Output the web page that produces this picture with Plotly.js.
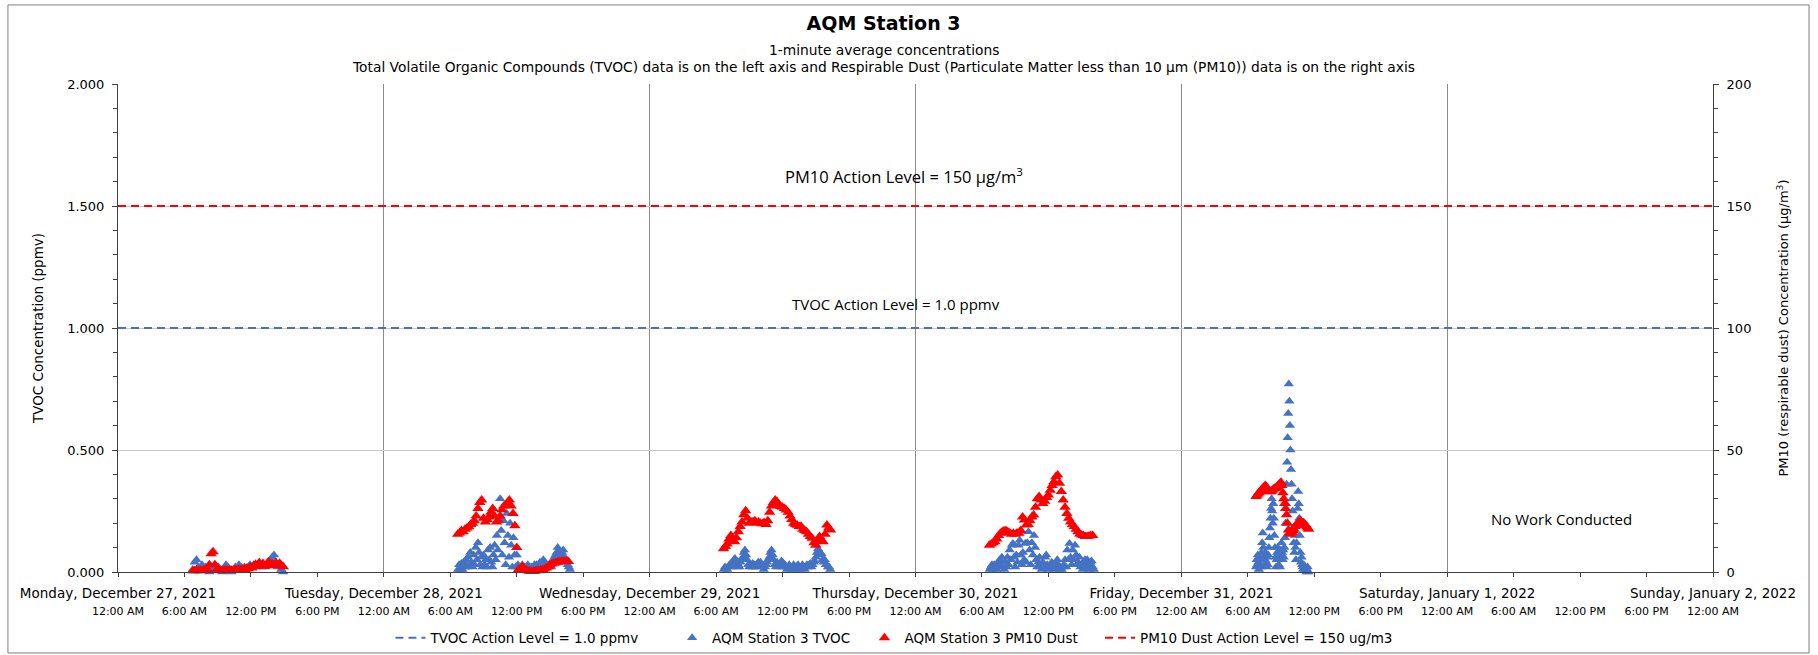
<!DOCTYPE html>
<html>
<head>
<meta charset="utf-8">
<script src="https://cdn.plot.ly/plotly-3.0.1.min.js"></script>
<style>
  html, body { margin: 0; padding: 0; background: #ffffff; }
  #chart { width: 1818px; height: 655px; }
</style>
</head>
<body>
<div id="chart"></div>
<script>
// ---------------- Axis tick labels ----------------
const dayTickVals = ['2021-12-27','2021-12-28','2021-12-29','2021-12-30','2021-12-31','2022-01-01','2022-01-02'];
const dayTickText = ['Monday, December 27, 2021','Tuesday, December 28, 2021','Wednesday, December 29, 2021',
  'Thursday, December 30, 2021','Friday, December 31, 2021','Saturday, January 1, 2022','Sunday, January 2, 2022'];
const timeTickVals = [
  '2021-12-27 00:00','2021-12-27 06:00','2021-12-27 12:00','2021-12-27 18:00',
  '2021-12-28 00:00','2021-12-28 06:00','2021-12-28 12:00','2021-12-28 18:00',
  '2021-12-29 00:00','2021-12-29 06:00','2021-12-29 12:00','2021-12-29 18:00',
  '2021-12-30 00:00','2021-12-30 06:00','2021-12-30 12:00','2021-12-30 18:00',
  '2021-12-31 00:00','2021-12-31 06:00','2021-12-31 12:00','2021-12-31 18:00',
  '2022-01-01 00:00','2022-01-01 06:00','2022-01-01 12:00','2022-01-01 18:00',
  '2022-01-02 00:00'];
const timeTickText = [
  '12:00 AM','6:00 AM','12:00 PM','6:00 PM',
  '12:00 AM','6:00 AM','12:00 PM','6:00 PM',
  '12:00 AM','6:00 AM','12:00 PM','6:00 PM',
  '12:00 AM','6:00 AM','12:00 PM','6:00 PM',
  '12:00 AM','6:00 AM','12:00 PM','6:00 PM',
  '12:00 AM','6:00 AM','12:00 PM','6:00 PM',
  '12:00 AM'];

// ---------------- Action levels ----------------
const actionX = ['2021-12-27 00:00', '2022-01-02 00:00'];
const tvocActionLevel = [1.0, 1.0];     // ppmv
const pm10ActionLevel = [150, 150];     // ug/m3

// ---------------- TVOC (ppmv), sampled readings per work day ----------------
const tvocStart = ['2021-12-27 06:45','2021-12-28 06:42','2021-12-29 06:42','2021-12-30 06:42','2021-12-31 06:45'];
const tvocStepMin = [10, 6, 6, 6, 3];
const tvocDec27 = [
  0.01,0.04,0.05,0.02,0.01,0.03,0.01,0.02,0.01,0.00,
  0.02,0.01,0.03,0.01,0.02,0.01,0.00,0.01,0.03,0.02,
  0.01,0.00,0.01,0.02,0.01,0.03,0.02,0.01,0.02,0.01,
  0.02,0.03,0.02,0.03,0.02,0.03,0.04,0.02,0.03,0.02,
  0.03,0.04,0.05,0.06,0.07,0.04,0.02,0.03,0.01,0.00];
const tvocDec28 = [
  0.01,0.03,0.01,0.035,0.01,0.04,0.02,0.05,0.02,0.06,
  0.03,0.08,0.04,0.02,0.07,0.03,0.10,0.05,0.12,0.08,
  0.03,0.06,0.02,0.07,0.03,0.05,0.02,0.09,0.05,0.10,
  0.04,0.02,0.07,0.11,0.05,0.15,0.09,0.22,0.30,0.17,
  0.07,0.21,0.12,0.03,0.24,0.15,0.06,0.20,0.11,0.02,
  0.14,0.07,0.02,0.07,0.03,0.02,0.01,0.02,0.03,0.01,
  0.02,0.01,0.02,0.03,0.02,0.01,0.02,0.01,0.02,0.03,
  0.02,0.03,0.02,0.03,0.04,0.03,0.04,0.05,0.03,0.02,
  0.03,0.02,0.03,0.035,0.02,0.04,0.05,0.06,0.07,0.08,
  0.10,0.09,0.07,0.06,0.08,0.09,0.06,0.04,0.05,0.03,
  0.02,0.01];
const tvocDec29 = [
  0.01,0.02,0.015,0.01,0.02,0.03,0.02,0.03,0.04,0.05,
  0.055,0.04,0.02,0.03,0.02,0.04,0.05,0.06,0.08,0.09,
  0.07,0.05,0.03,0.02,0.03,0.02,0.035,0.02,0.03,0.02,
  0.03,0.04,0.03,0.04,0.02,0.03,0.01,0.02,0.03,0.04,
  0.05,0.06,0.08,0.09,0.07,0.05,0.03,0.02,0.04,0.03,
  0.02,0.03,0.045,0.04,0.02,0.03,0.02,0.01,0.02,0.03,
  0.02,0.01,0.02,0.03,0.02,0.01,0.02,0.03,0.02,0.01,
  0.02,0.03,0.02,0.01,0.02,0.03,0.02,0.03,0.035,0.02,
  0.03,0.04,0.045,0.06,0.08,0.095,0.07,0.08,0.075,0.05,
  0.04,0.05,0.03,0.03,0.02,0.02,0.01];
const tvocDec30 = [
  0.01,0.02,0.03,0.01,0.03,0.02,0.01,0.03,0.02,0.05,
  0.03,0.06,0.02,0.01,0.04,0.02,0.06,0.03,0.09,0.05,
  0.11,0.117,0.06,0.02,0.07,0.04,0.11,0.13,0.07,0.03,
  0.08,0.05,0.117,0.04,0.12,0.165,0.09,0.03,0.12,0.07,
  0.15,0.10,0.05,0.02,0.04,0.06,0.02,0.01,0.04,0.02,
  0.06,0.07,0.03,0.01,0.02,0.03,0.04,0.02,0.01,0.03,
  0.04,0.05,0.02,0.01,0.02,0.01,0.02,0.03,0.05,0.02,
  0.09,0.05,0.117,0.06,0.03,0.09,0.05,0.11,0.07,0.03,
  0.04,0.06,0.02,0.03,0.01,0.04,0.05,0.02,0.05,0.03,
  0.01,0.04,0.045,0.02,0.01];
const tvocDec31 = [
  0.02,0.05,0.03,0.07,0.04,0.01,0.06,0.03,0.05,0.02,
  0.08,0.12,0.16,0.10,0.06,0.03,0.05,0.08,0.04,0.02,
  0.06,0.03,0.07,0.10,0.14,0.18,0.22,0.26,0.30,0.25,
  0.20,0.28,0.22,0.15,0.10,0.06,0.02,0.05,0.08,0.10,
  0.06,0.03,0.05,0.02,0.06,0.09,0.12,0.08,0.05,0.09,
  0.06,0.10,0.14,0.20,0.28,0.36,0.45,0.55,0.65,0.77,
  0.70,0.60,0.50,0.42,0.36,0.30,0.25,0.18,0.12,0.08,
  0.15,0.10,0.05,0.12,0.20,0.26,0.33,0.28,0.22,0.15,
  0.08,0.04,0.06,0.03,0.02,0.01,0.03,0.02,0.01,0.02,
  0.01,0.00,0.01,0.02,0.00];

// ---------------- PM10 dust (ug/m3), sampled readings per work day ----------------
const pm10Start = ['2021-12-27 06:45','2021-12-28 06:40','2021-12-29 06:40','2021-12-30 06:40','2021-12-31 06:45'];
const pm10StepMin = [10, 10, 10, 10, 5];
const pm10Dec27 = [
  0.5,0.5,0.8,0.5,0.6,0.5,0.8,0.6,1.0,3.0,
  7.5,8.3,3.0,0.8,0.6,0.5,0.7,0.6,0.8,0.6,
  0.9,0.7,0.6,1.0,0.8,1.0,0.9,1.2,1.0,1.5,
  1.3,2.0,1.6,2.5,3.2,2.4,3.8,2.8,3.5,2.4,
  3.0,4.2,2.8,3.4,2.6,3.8,3.0,3.6,2.8,2.2];
const pm10Dec28 = [
  15.5,16.0,17.0,16.5,17.5,18.0,18.5,19.5,20.0,21.0,
  23.0,26.0,28.5,29.5,22.0,20.5,21.5,22.5,24.5,26.0,
  23.0,20.5,21.0,23.0,25.5,27.0,27.5,28.5,29.5,27.0,
  24.0,19.0,10.0,1.0,1.5,2.2,1.5,0.8,0.5,0.3,
  0.2,0.2,0.4,0.6,0.5,0.8,0.9,1.2,1.6,2.2,
  2.9,3.3,3.6,3.8,4.0,4.2,4.3,4.5,4.2,4.6,
  4.3];
const pm10Dec29 = [
  9.5,10.5,11.5,13.5,15.0,13.0,12.4,14.0,16.5,18.6,
  20.5,23.5,25.1,22.0,20.0,20.5,20.6,21.0,20.2,20.5,
  20.0,19.8,20.3,19.5,21.0,24.5,27.0,28.5,29.5,28.8,
  27.5,26.8,26.5,26.0,25.4,24.5,23.0,21.5,20.0,19.5,
  19.2,18.6,18.8,17.5,17.0,16.5,15.5,14.5,13.8,12.0,
  11.0,13.0,14.5,13.0,12.4,15.5,19.3,18.0,17.2];
const pm10Dec30 = [
  11.0,11.5,12.0,12.4,13.5,15.0,15.9,16.5,16.9,16.9,
  16.5,16.0,15.5,15.9,15.5,16.0,15.9,17.0,22.5,21.3,
  19.3,19.5,21.0,22.5,23.4,26.5,30.0,30.9,29.5,28.1,
  29.0,30.5,31.6,33.5,35.5,37.0,39.0,39.8,36.4,33.0,
  29.5,26.5,24.0,22.0,20.5,19.5,18.6,17.5,16.5,15.6,
  15.2,15.0,14.5,14.5,14.8,15.0,15.0];
const pm10Dec31 = [
  30.9,31.5,32.0,32.5,32.9,33.3,33.8,34.2,34.6,35.0,
  35.4,35.0,34.2,33.5,33.0,32.9,32.9,33.2,33.6,34.0,
  34.3,34.3,34.5,35.0,35.6,36.0,36.4,36.8,35.5,32.5,
  30.0,28.1,26.0,23.5,20.0,17.2,16.0,15.5,16.0,16.5,
  17.0,17.5,18.6,19.0,19.5,20.0,20.4,20.8,21.0,20.4,
  20.0,20.2,20.0,19.5,19.0,18.5,17.9,17.5];

// ---------------- helpers ----------------
function stamps(start, stepMin, n) {
  const parts = start.split(' ');
  const d = parts[0].split('-').map(Number);
  const t = parts[1].split(':').map(Number);
  const base = Date.UTC(d[0], d[1] - 1, d[2], t[0], t[1]);
  const out = [];
  for (let i = 0; i < n; i++) {
    out.push(new Date(base + i * stepMin * 60000).toISOString().slice(0, 19).replace('T', ' '));
  }
  return out;
}
function series(starts, steps, blocks) {
  const x = [], y = [];
  blocks.forEach((vals, i) => {
    const xs = stamps(starts[i], steps[i], vals.length);
    for (let k = 0; k < vals.length; k++) { x.push(xs[k]); y.push(vals[k]); }
  });
  return {x, y};
}
const tvoc = series(tvocStart, tvocStepMin, [tvocDec27, tvocDec28, tvocDec29, tvocDec30, tvocDec31]);
const pm10 = series(pm10Start, pm10StepMin, [pm10Dec27, pm10Dec28, pm10Dec29, pm10Dec30, pm10Dec31]);

const BLUE = '#4472C4', RED = '#FF0000', AXIS = '#404040';
const FONT = 'DejaVu Sans, Arial, sans-serif';
const NOTE_FONT = 'Open Sans, sans-serif';

const traces = [
  {type:'scatter', mode:'lines', name:'TVOC Action Level = 1.0 ppmv', x:actionX, y:tvocActionLevel,
   xaxis:'x2', yaxis:'y', line:{color:BLUE, width:2, dash:'8px,5px'}, legend:'legend', hoverinfo:'skip'},
  {type:'scatter', mode:'lines', name:'PM10 Dust Action Level = 150 ug/m3', x:actionX, y:pm10ActionLevel,
   xaxis:'x', yaxis:'y2', line:{color:RED, width:2, dash:'8px,5px'}, legend:'legend4', hoverinfo:'skip'},
  {type:'scatter', mode:'markers', name:'AQM Station 3 TVOC', x:tvoc.x, y:tvoc.y, xaxis:'x', yaxis:'y',
   marker:{symbol:'triangle-up', size:9, color:BLUE, line:{width:0}}, cliponaxis:false, legend:'legend2'},
  {type:'scatter', mode:'markers', name:'AQM Station 3 PM10 Dust', x:pm10.x, y:pm10.y, xaxis:'x', yaxis:'y2',
   marker:{symbol:'triangle-up', size:10, color:RED, line:{width:0}}, cliponaxis:false, legend:'legend3'}
];

const legendBase = {orientation:'h', yref:'paper', y:-0.135, yanchor:'middle', xanchor:'left',
  font:{family:FONT, size:13.5, color:'#000'}, bgcolor:'rgba(0,0,0,0)', borderwidth:0};

const layout = {
  width:1818, height:655,
  margin:{l:118, r:105, t:84, b:83, pad:0, autoexpand:false},
  paper_bgcolor:'#ffffff', plot_bgcolor:'#ffffff',
  font:{family:FONT, size:13, color:'#000'},
  showlegend:true,
  title:{text:'<b>AQM Station 3</b>', font:{family:FONT, size:19, color:'#000'},
         xref:'container', x:0.486, xanchor:'center', yref:'container', y:0.965, yanchor:'middle'},
  xaxis:{type:'date', range:[dayTickVals[0], dayTickVals[6]], tickmode:'array', tickvals:dayTickVals, ticktext:dayTickText,
         ticks:'outside', ticklen:4, tickcolor:AXIS, showline:true, linecolor:AXIS, linewidth:1,
         showgrid:true, gridcolor:'#8c8c8c', gridwidth:1, zeroline:false, tickfont:{family:FONT, size:13.5, color:'#000'},
         ticklabelstandoff:5, fixedrange:true, automargin:false},
  xaxis2:{type:'date', overlaying:'x', anchor:'y', side:'bottom', range:[dayTickVals[0], dayTickVals[6]],
          tickmode:'array', tickvals:timeTickVals, ticktext:timeTickText, ticks:'outside', ticklen:4, tickcolor:AXIS,
          showline:false, showgrid:false, zeroline:false, tickfont:{family:FONT, size:11, color:'#000'},
          ticklabelstandoff:25, fixedrange:true, automargin:false},
  yaxis:{range:[0,2], tickmode:'linear', tick0:0, dtick:0.5, tickformat:'.3f', ticks:'outside', ticklen:5, tickcolor:AXIS,
         showline:true, linecolor:AXIS, linewidth:1, showgrid:true, gridcolor:'#c8c8c8', gridwidth:1, zeroline:false,
         minor:{dtick:0.1, ticks:'outside', ticklen:4, tickcolor:AXIS, showgrid:false},
         tickfont:{family:FONT, size:13, color:'#000'}, ticklabelstandoff:5, automargin:false,
         title:{text:'TVOC Concentration (ppmv)', font:{family:FONT, size:13.5, color:'#000'}, standoff:20}},
  yaxis2:{range:[0,200], overlaying:'y', side:'right', anchor:'x', tickmode:'linear', tick0:0, dtick:50,
          ticks:'outside', ticklen:5, tickcolor:AXIS, showline:true, linecolor:AXIS, linewidth:1, showgrid:false, zeroline:false,
          minor:{dtick:10, ticks:'outside', ticklen:4, tickcolor:AXIS, showgrid:false},
          tickfont:{family:FONT, size:13, color:'#000'}, ticklabelstandoff:5, automargin:false,
          title:{text:'PM10 (respirable dust) Concentration (µg/m<sup>3</sup>)', font:{family:FONT, size:13, color:'#000'}, standoff:28}},
  legend:  Object.assign({}, legendBase, {x:0.1708}),
  legend2: Object.assign({}, legendBase, {x:0.3474}),
  legend3: Object.assign({}, legendBase, {x:0.4680}),
  legend4: Object.assign({}, legendBase, {x:0.6157}),
  annotations:[
    {text:'1-minute average concentrations', xref:'paper', yref:'paper', x:0.480, y:1.0697, xanchor:'center', yanchor:'middle',
     showarrow:false, font:{family:FONT, size:13.8, color:'#000'}},
    {text:'Total Volatile Organic Compounds (TVOC) data is on the left axis and Respirable Dust (Particulate Matter less than 10 µm (PM10)) data is on the right axis',
     xref:'paper', yref:'paper', x:0.480, y:1.0348, xanchor:'center', yanchor:'middle', showarrow:false, font:{family:FONT, size:13.8, color:'#000'}},
    {text:'PM10 Action Level = 150 µg/m<sup>3</sup>', xref:'paper', yref:'paper', x:0.493, y:0.811, xanchor:'center', yanchor:'middle',
     showarrow:false, font:{family:NOTE_FONT, size:16.5, color:'#000'}},
    {text:'TVOC Action Level = 1.0 ppmv', xref:'paper', yref:'paper', x:0.488, y:0.549, xanchor:'center', yanchor:'middle',
     showarrow:false, font:{family:NOTE_FONT, size:15, color:'#000'}},
    {text:'No Work Conducted', xref:'paper', yref:'paper', x:0.905, y:0.109, xanchor:'center', yanchor:'middle',
     showarrow:false, font:{family:NOTE_FONT, size:15, color:'#000'}}
  ],
  shapes:[
    {type:'rect', xref:'paper', yref:'paper', x0:-0.069, x1:1.0602, y0:-0.166, y1:1.162,
     line:{color:'#7f7f7f', width:1}, fillcolor:'rgba(0,0,0,0)', layer:'below'}
  ]
};

Plotly.newPlot('chart', traces, layout, {displayModeBar:false, staticPlot:true});
</script>
</body>
</html>
